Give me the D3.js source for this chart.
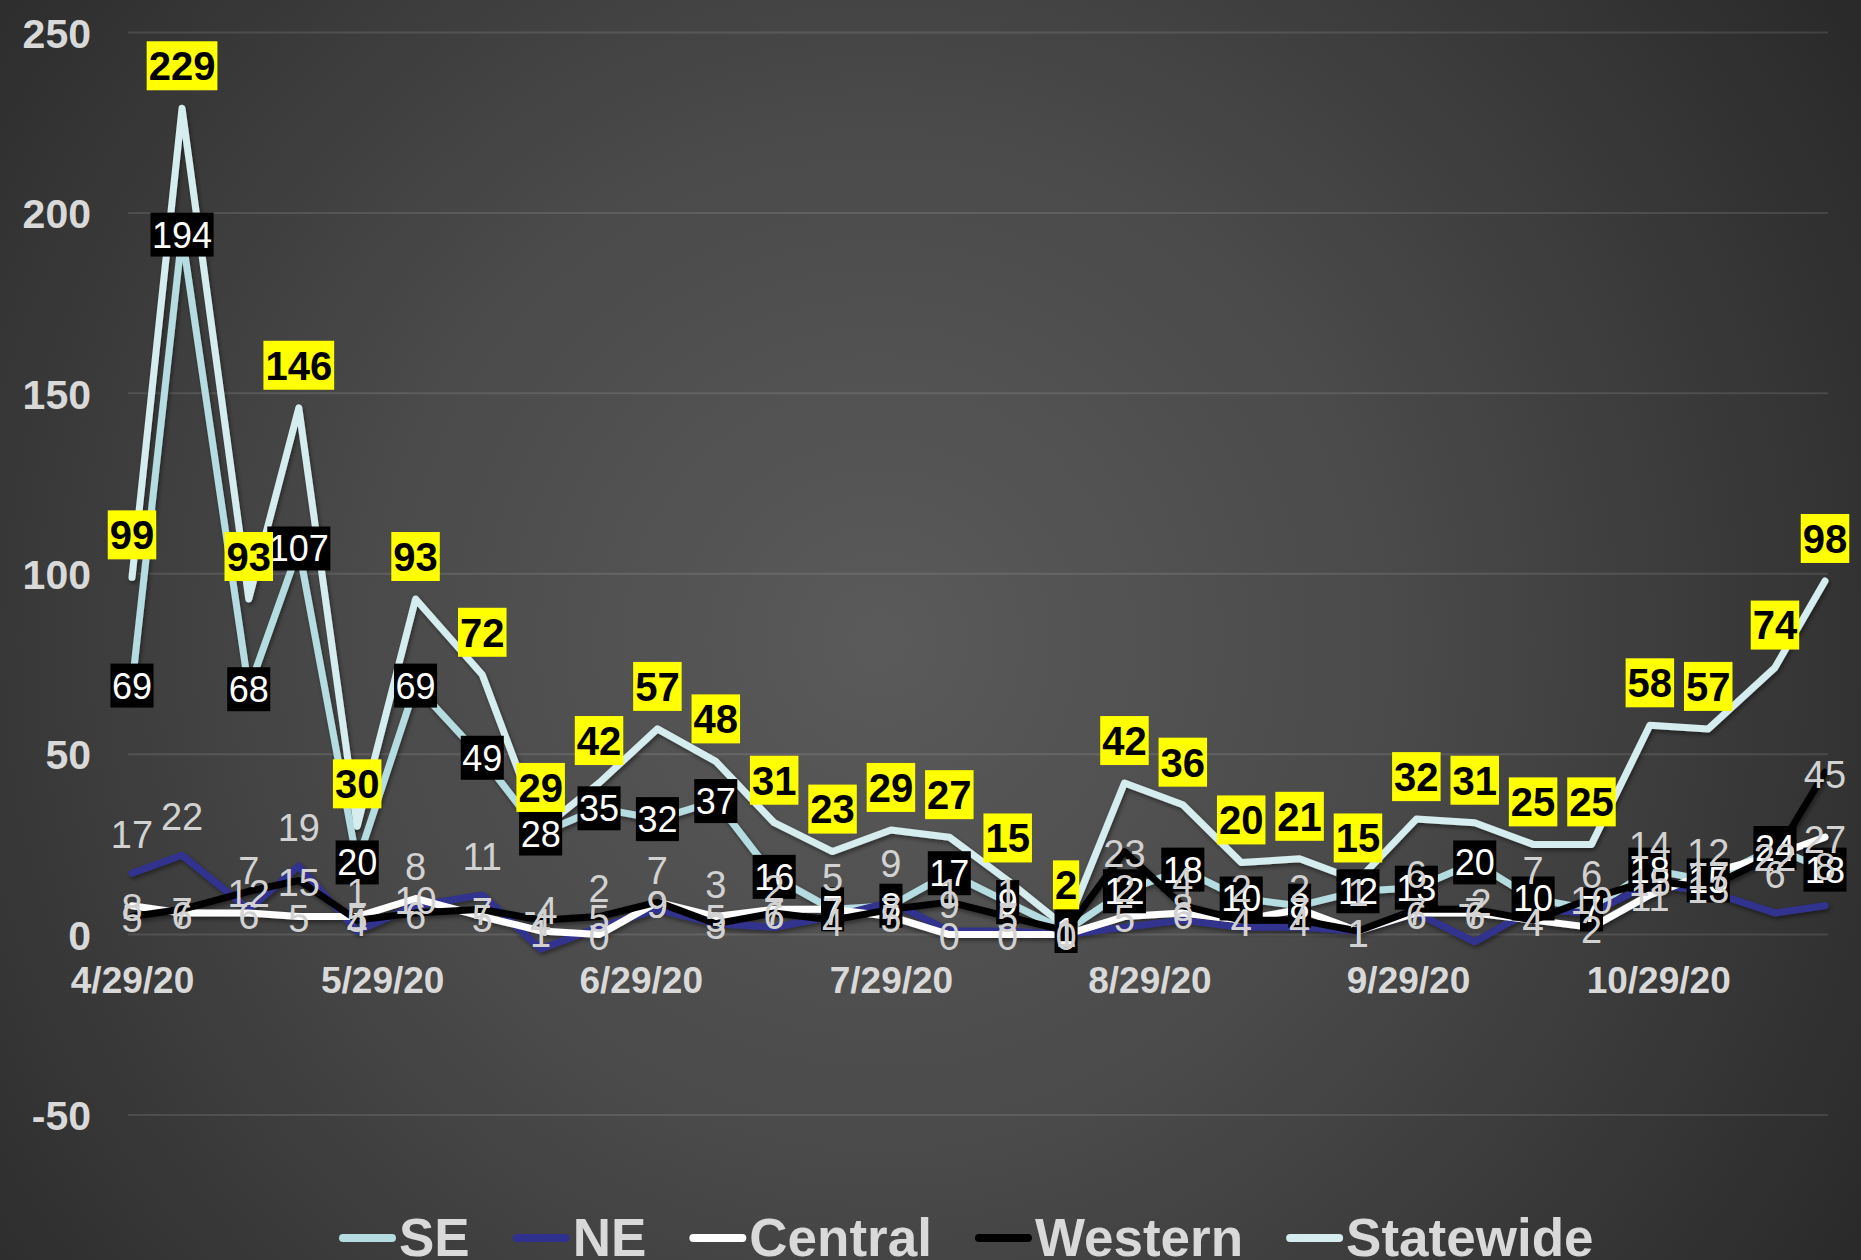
<!DOCTYPE html>
<html>
<head>
<meta charset="utf-8">
<script src="https://cdn.jsdelivr.net/npm/d3@7/dist/d3.min.js"></script>
<style>
  html, body { margin: 0; padding: 0; background: #333; }
  svg { display: block; }
  text { font-family: "Liberation Sans", Arial, sans-serif; }
</style>
</head>
<body>
<svg id="chart" width="1861" height="1260"></svg>
<script>
// ---------- DATA ----------
const dates = ["2020-04-29","2020-05-05","2020-05-13","2020-05-19","2020-05-26","2020-06-02",
  "2020-06-10","2020-06-17","2020-06-24","2020-07-01","2020-07-08","2020-07-15","2020-07-22",
  "2020-07-29","2020-08-05","2020-08-12","2020-08-19","2020-08-26","2020-09-02","2020-09-09",
  "2020-09-16","2020-09-23","2020-09-30","2020-10-07","2020-10-14","2020-10-21","2020-10-28",
  "2020-11-04","2020-11-12","2020-11-18"];
const seValues        = [69,194,68,107,20,69,49,28,35,32,37,16,7,8,17,9,1,12,18,10,8,12,13,20,10,7,18,15,24,18];
const neValues        = [17,22,7,19,1,8,11,-4,2,7,3,2,5,9,1,1,0,2,4,2,2,1,6,-2,7,6,14,12,6,8];
const centralValues   = [8,6,6,5,5,10,5,1,0,9,5,7,7,5,0,0,0,5,6,4,7,1,6,6,4,2,11,17,22,27];
const westernValues   = [5,7,12,15,4,6,7,4,5,9,3,6,4,7,9,5,1,23,8,4,4,1,7,7,4,10,15,13,22,45];
const statewideValues = [99,229,93,146,30,93,72,29,42,57,48,31,23,29,27,15,2,42,36,20,21,15,32,31,25,25,58,57,74,98];
const seriesNames = ["SE","NE","Central","Western","Statewide"];
const yTickValues = [-50,0,50,100,150,200,250];
const xTickDates = ["2020-04-29","2020-05-29","2020-06-29","2020-07-29","2020-08-29","2020-09-29","2020-10-29"];

// ---------- STYLE ----------
const W = 1861, H = 1260;
const colors = { "SE":"#b5dce0", "NE":"#30318f", "Central":"#ffffff", "Western":"#000000", "Statewide":"#d6edef" };
const labelStyle = { "SE":"blackbox", "NE":"above", "Central":"center", "Western":"center", "Statewide":"yellow" };
const gray = "#d2d2d2";

const parse = d3.timeParse("%Y-%m-%d");
const fmt = d => (d.getMonth()+1) + "/" + d.getDate() + "/" + String(d.getFullYear()).slice(2);

const seriesValues = { "SE":seValues, "NE":neValues, "Central":centralValues, "Western":westernValues, "Statewide":statewideValues };
const series = seriesNames.map(name => ({
  name, values: seriesValues[name].map((v,i) => ({ date: parse(dates[i]), value: v }))
}));

const svg = d3.select("#chart");
const defs = svg.append("defs");
const grad = defs.append("radialGradient").attr("id","bg")
  .attr("gradientUnits","userSpaceOnUse").attr("cx",880).attr("cy",640).attr("r",1150);
grad.append("stop").attr("offset","0").attr("stop-color","#5a5a5a");
grad.append("stop").attr("offset","0.45").attr("stop-color","#4a4a4a");
grad.append("stop").attr("offset","1").attr("stop-color","#2a2a2a");
const f = defs.append("filter").attr("id","shadow").attr("x","-5%").attr("y","-5%").attr("width","110%").attr("height","110%");
f.append("feDropShadow").attr("dx",1.5).attr("dy",2.5).attr("stdDeviation",2).attr("flood-color","#000").attr("flood-opacity",0.45);

svg.append("rect").attr("width",W).attr("height",H).attr("fill","url(#bg)");

const x = d3.scaleTime().domain([parse(dates[0]), parse(dates[dates.length-1])]).range([132, 1825]);
const y = d3.scaleLinear().domain([-50, 250]).range([1115, 32.5]);

// gridlines
svg.append("g").selectAll("line").data(yTickValues).join("line")
  .attr("x1",128).attr("x2",1828)
  .attr("y1",d=>y(d)).attr("y2",d=>y(d))
  .attr("stroke","rgba(255,255,255,0.11)").attr("stroke-width",2);

// y axis labels
const yAxis = d3.axisLeft(y).tickValues(yTickValues).tickSize(0).tickPadding(0).tickFormat(d => String(d));
const gy = svg.append("g").attr("transform","translate(91,0)").call(yAxis);
gy.select(".domain").remove();
gy.selectAll("text").attr("fill","#d9d9d9").attr("font-size",41).attr("font-weight","bold")
  .attr("font-family","'Liberation Sans', Arial, sans-serif").attr("dy","0.36em");

// x axis labels (at zero line)
const xAxis = d3.axisBottom(x).tickValues(xTickDates.map(parse)).tickSize(0).tickPadding(0).tickFormat(fmt);
const gx = svg.append("g").attr("transform",`translate(0,${y(0)})`).call(xAxis);
gx.select(".domain").remove();
gx.selectAll("text").attr("fill","#d9d9d9").attr("font-size",37).attr("font-weight","bold")
  .attr("font-family","'Liberation Sans', Arial, sans-serif").attr("dy",null).attr("y",58);

// lines
const line = d3.line().x(d=>x(d.date)).y(d=>y(d.value));
svg.append("g").attr("filter","url(#shadow)").selectAll("path").data(series).join("path")
  .attr("d", d=>line(d.values))
  .attr("fill","none").attr("stroke",d=>colors[d.name]).attr("stroke-width",7)
  .attr("stroke-linejoin","round").attr("stroke-linecap","round");

// labels
const labelsG = svg.append("g");
series.forEach(s => {
  const style = labelStyle[s.name];
  s.values.forEach(d => {
    const px = x(d.date), py = y(d.value);
    const g = labelsG.append("g");
    if (style === "yellow") {
      const fs = 40;
      const cy = py - 18 - 24.5;
      const t = g.append("text").attr("x",px).attr("y",cy + 0.36*fs).attr("text-anchor","middle")
        .attr("font-size",fs).attr("font-weight","bold").attr("fill","#000").text(d.value);
      const w = t.node().getComputedTextLength() + 4;
      g.insert("rect","text").attr("x",px-w/2).attr("y",cy-24.5).attr("width",w).attr("height",49).attr("fill","#ffff00");
    } else if (style === "blackbox") {
      const fs = 36;
      const cy = py;
      const t = g.append("text").attr("x",px).attr("y",cy + 0.36*fs).attr("text-anchor","middle")
        .attr("font-size",fs).attr("fill","#fff").text(d.value);
      const w = t.node().getComputedTextLength() + 3;
      g.insert("rect","text").attr("x",px-w/2).attr("y",cy-22).attr("width",w).attr("height",44).attr("fill","#000");
    } else {
      const fs = 38;
      const cy = style === "above" ? py - 39 : py + 2;
      g.append("text").attr("x",px).attr("y",cy + 0.36*fs).attr("text-anchor","middle")
        .attr("font-size",fs).attr("fill",gray).text(d.value);
    }
  });
});

// legend
const lg = svg.append("g");
let lx = 339;
const ly = 1238;
seriesNames.forEach(name => {
  lg.append("line").attr("x1",lx+4).attr("x2",lx+53).attr("y1",ly).attr("y2",ly)
    .attr("stroke",colors[name]).attr("stroke-width",8).attr("stroke-linecap","round");
  const t = lg.append("text").attr("x",lx+60).attr("y",1256).attr("font-size",53).attr("font-weight","bold")
    .attr("fill","#d9d9d9").text(name);
  lx += 60 + t.node().getComputedTextLength() + 43;
});
</script>
</body>
</html>
